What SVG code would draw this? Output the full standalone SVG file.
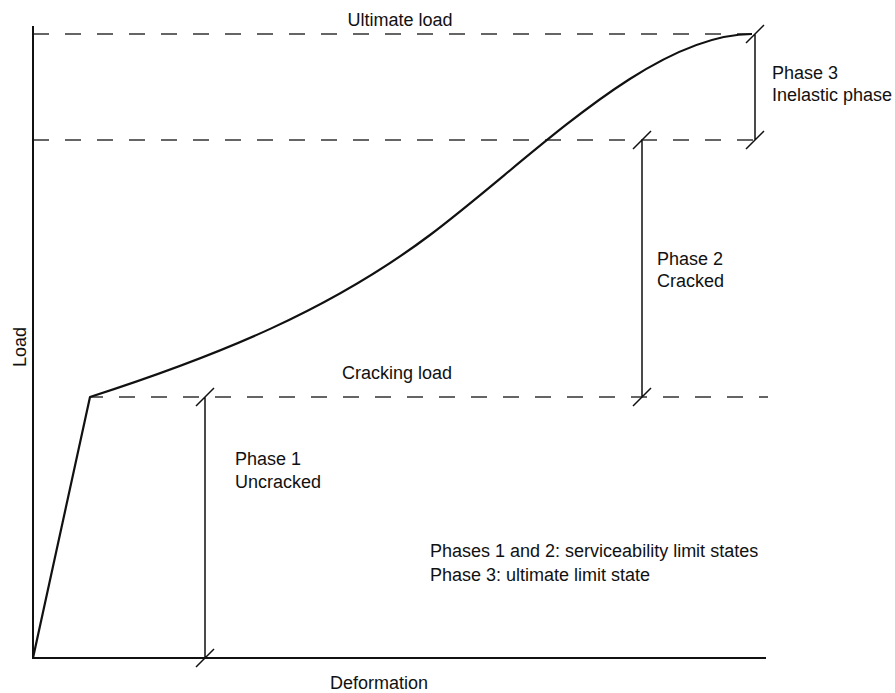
<svg xmlns="http://www.w3.org/2000/svg" width="895" height="693" viewBox="0 0 895 693">
<style>
text{font-family:"Liberation Sans",Arial,sans-serif;font-size:18px;fill:#111}
.dash{stroke:#333;stroke-width:1.4;stroke-dasharray:16 16;fill:none}
.dim{stroke:#111;stroke-width:1.5;fill:none}
.axis{stroke:#111;stroke-width:2;fill:none}
.curve{stroke:#111;stroke-width:2.2;fill:none;stroke-linejoin:round}
</style>
<rect width="895" height="693" fill="#fff"/>
<g id="connectors">
<line class="dash" x1="33" y1="34" x2="752" y2="34"/>
<line class="dash" x1="33" y1="140" x2="756" y2="140"/>
<line class="dash" x1="90" y1="397" x2="768" y2="397" stroke-dashoffset="3"/>
<path class="dim" d="M205,397V658M196,406L214,388M196,667L214,649"/>
<path class="dim" d="M642,140V397M633,149L651,131M633,406L651,388"/>
<path class="dim" d="M755,34V140M746,43L764,25M746,149L764,131"/>
</g>
<g id="axes">
<path class="axis" d="M33,26V658H766"/>
</g>
<g id="curve">
<path class="curve" d="M33,658L90,397C220,355 330,310 430,235S650,34 752,34"/>
</g>
<g id="labels">
<text x="400" y="26" text-anchor="middle">Ultimate load</text>
<text x="397" y="379" text-anchor="middle">Cracking load</text>
<text x="772" y="79">Phase 3</text>
<text x="772" y="101">Inelastic phase</text>
<text x="657" y="265">Phase 2</text>
<text x="657" y="287">Cracked</text>
<text x="235" y="465">Phase 1</text>
<text x="235" y="488">Uncracked</text>
<text x="430" y="557">Phases 1 and 2: serviceability limit states</text>
<text x="430" y="581">Phase 3: ultimate limit state</text>
<text x="379" y="689" text-anchor="middle">Deformation</text>
<text transform="translate(26,347) rotate(-90)" text-anchor="middle">Load</text>
</g>
</svg>
